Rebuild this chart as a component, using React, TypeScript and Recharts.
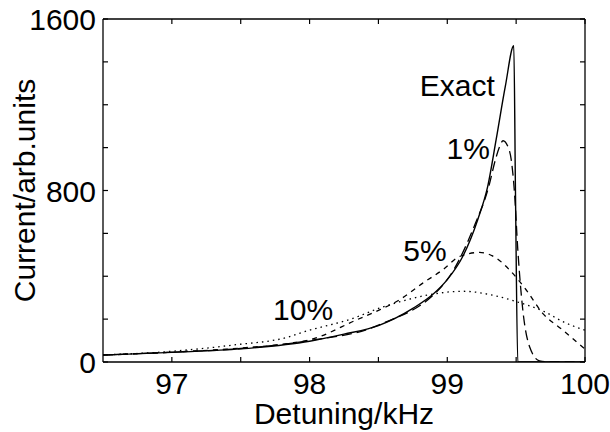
import React from 'react';
import { LineChart, Line, XAxis, YAxis, ReferenceDot } from 'recharts';

const FONT = '"Liberation Sans", Arial, Helvetica, sans-serif';

// axis ticks (every minor tick drawn inward, only some get a number)
const xTicks = [97, 97.5, 98, 98.5, 99, 99.5, 100];
const xLabelled = [97, 98, 99, 100];
const yTicks = [0, 200, 400, 600, 800, 1000, 1200, 1400, 1600];
const yLabelled = [0, 800, 1600];

// Exact (solid)
const exactX = [96.5, 97, 97.5, 98, 98.25, 98.5, 98.75, 98.9, 99.0, 99.112, 99.221, 99.294, 99.355, 99.422, 99.483, 99.495, 99.512, 99.6, 100];
const exactY = [32, 45, 61, 97, 130, 170, 250, 318, 384, 492, 664, 820, 1038, 1288, 1475, 800, 0, 0, 0];

// 1% (long dashes)
const pct1X = [96.5, 97, 97.5, 98, 98.5, 99.0, 99.2, 99.3, 99.35, 99.38, 99.405, 99.44, 99.464, 99.488, 99.512, 99.548, 99.597, 99.67, 99.75, 100];
const pct1Y = [32, 46, 63, 100, 172, 385, 640, 815, 945, 1005, 1032, 1005, 945, 790, 525, 245, 72, 5, 0, 0];

// 5% (short dashes)
const pct5X = [96.5, 97, 97.5, 97.855, 98, 98.339, 98.508, 98.653, 98.822, 98.967, 99.089, 99.234, 99.355, 99.451, 99.572, 99.693, 99.838, 100];
const pct5Y = [33, 46, 65, 87, 103, 196, 243, 290, 368, 430, 492, 511, 485, 430, 337, 227, 149, 60];

// 10% (dotted)
const pct10X = [96.5, 96.96, 97.443, 97.855, 97.927, 98.339, 98.5, 98.65, 98.871, 99.112, 99.355, 99.5, 99.705, 99.85, 100];
const pct10Y = [33, 48, 79, 118, 134, 209, 250, 280, 314, 330, 308, 282, 235, 185, 148];

// curve labels, placed in data coordinates (left edge / baseline)
const notes = [
  { text: 'Exact', x: 98.8, y: 1241 },
  { text: '1%', x: 98.995, y: 945 },
  { text: '5%', x: 98.68, y: 471 },
  { text: '10%', x: 97.735, y: 198 },
];

const toPoints = (xs: number[], ys: number[]) => xs.map((x, i) => ({ x, y: ys[i] }));

const TICK = 5;

const BottomTick = (props: any) => {
  const { x, y, payload } = props;
  return (
    <g>
      <line x1={x} y1={y} x2={x} y2={y - TICK} stroke="#000" strokeWidth={1.2} />
      {xLabelled.includes(payload.value) && (
        <text x={x} y={y + 32} textAnchor="middle" fontSize={30} fontFamily={FONT} fill="#000">
          {payload.value}
        </text>
      )}
    </g>
  );
};

const TopTick = (props: any) => {
  const { x, y } = props;
  return <line x1={x} y1={y} x2={x} y2={y + TICK} stroke="#000" strokeWidth={1.2} />;
};

const LeftTick = (props: any) => {
  const { x, y, payload } = props;
  return (
    <g>
      <line x1={x} y1={y} x2={x + TICK} y2={y} stroke="#000" strokeWidth={1.2} />
      {yLabelled.includes(payload.value) && (
        <text x={x - 7} y={y + 11} textAnchor="end" fontSize={30} fontFamily={FONT} fill="#000">
          {payload.value}
        </text>
      )}
    </g>
  );
};

const RightTick = (props: any) => {
  const { x, y } = props;
  return <line x1={x} y1={y} x2={x - TICK} y2={y} stroke="#000" strokeWidth={1.2} />;
};

const XTitle = (props: any) => {
  const vb = props.viewBox;
  return (
    <text x={vb.x + vb.width / 2} y={vb.y + 62} textAnchor="middle" fontSize={30} fontFamily={FONT} fill="#000">
      Detuning/kHz
    </text>
  );
};

const YTitle = (props: any) => {
  const vb = props.viewBox;
  return (
    <text
      transform={`translate(35, ${vb.y + vb.height / 2}) rotate(-90)`}
      textAnchor="middle"
      fontSize={30}
      fontFamily={FONT}
      fill="#000"
    >
      Current/arb.units
    </text>
  );
};

const NoteLabel = (text: string) => (props: any) => {
  const vb = props.viewBox;
  return (
    <text x={vb.x} y={vb.y} fontSize={30} fontFamily={FONT} fill="#000">
      {text}
    </text>
  );
};

const App: React.FC = () => {
  const axisLine = { stroke: '#000', strokeWidth: 1.3 };
  return (
    <div style={{ position: 'absolute', left: 0, top: 0, background: '#fff' }}>
      <LineChart width={610} height={432} margin={{ top: 18, right: 24, bottom: 0, left: 0 }}>
        <XAxis
          dataKey="x"
          type="number"
          domain={[96.5, 100]}
          ticks={xTicks}
          interval={0}
          allowDataOverflow
          height={70}
          tickSize={0}
          tickMargin={0}
          tickLine={false}
          axisLine={axisLine}
          tick={<BottomTick />}
          label={XTitle}
        />
        <XAxis
          xAxisId="top"
          orientation="top"
          dataKey="x"
          type="number"
          domain={[96.5, 100]}
          ticks={xTicks}
          interval={0}
          allowDataOverflow
          height={1}
          tickSize={0}
          tickMargin={0}
          tickLine={false}
          axisLine={axisLine}
          tick={<TopTick />}
        />
        <YAxis
          type="number"
          domain={[0, 1600]}
          ticks={yTicks}
          interval={0}
          allowDataOverflow
          width={103}
          tickSize={0}
          tickMargin={0}
          tickLine={false}
          axisLine={axisLine}
          tick={<LeftTick />}
          label={YTitle}
        />
        <YAxis
          yAxisId="right"
          orientation="right"
          type="number"
          domain={[0, 1600]}
          ticks={yTicks}
          interval={0}
          allowDataOverflow
          width={1}
          tickSize={0}
          tickMargin={0}
          tickLine={false}
          axisLine={axisLine}
          tick={<RightTick />}
        />
        <Line data={toPoints(pct10X, pct10Y)} dataKey="y" type="monotone" stroke="#000" strokeWidth={1.3}
          strokeDasharray="1.5 4" dot={false} activeDot={false} isAnimationActive={false} />
        <Line data={toPoints(pct5X, pct5Y)} dataKey="y" type="monotone" stroke="#000" strokeWidth={1.3}
          strokeDasharray="5 5" dot={false} activeDot={false} isAnimationActive={false} />
        <Line data={toPoints(pct1X, pct1Y)} dataKey="y" type="monotone" stroke="#000" strokeWidth={1.3}
          strokeDasharray="10 5" dot={false} activeDot={false} isAnimationActive={false} />
        <Line data={toPoints(exactX, exactY)} dataKey="y" type="monotone" stroke="#000" strokeWidth={1.4}
          dot={false} activeDot={false} isAnimationActive={false} />
        {notes.map(n => (
          <ReferenceDot key={n.text} x={n.x} y={n.y} r={0} fill="none" stroke="none" label={NoteLabel(n.text)} />
        ))}
      </LineChart>
    </div>
  );
};

export default App;
